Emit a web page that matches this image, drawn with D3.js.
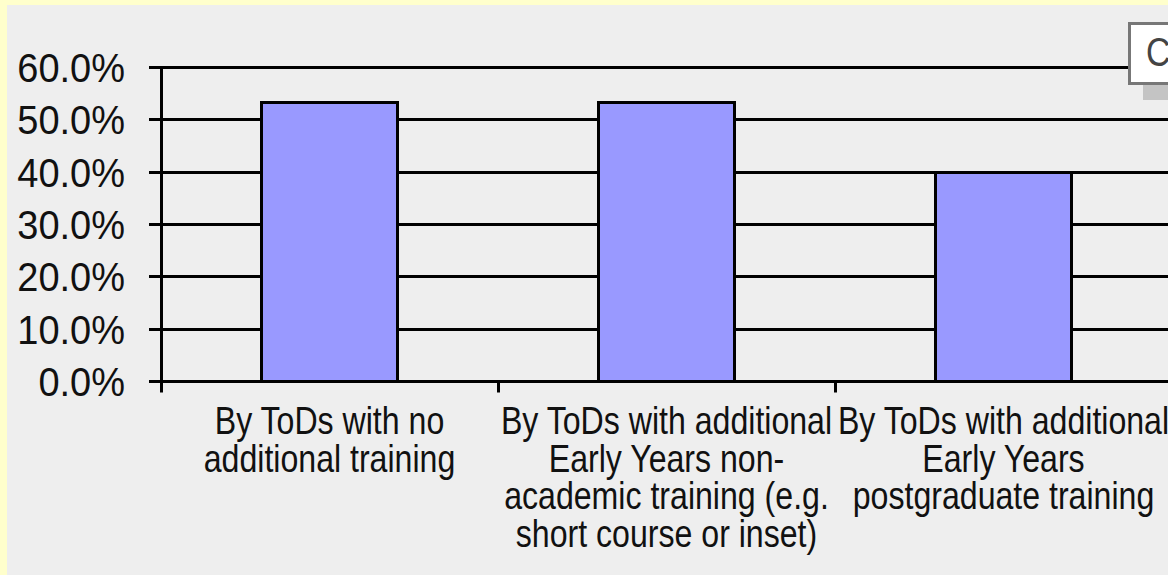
<!DOCTYPE html>
<html>
<head>
<meta charset="utf-8">
<script src="https://cdn.jsdelivr.net/npm/d3@7"></script>
<style>
  html, body { margin: 0; padding: 0; background: #ffffcc; }
  svg { display: block; }
  text { font-family: "Liberation Sans Narrow", "Arial Narrow", "Liberation Sans", Arial, sans-serif; }
</style>
</head>
<body>
<svg width="1168" height="575"></svg>
<script>
// categories, already broken into the lines shown under each bar
var categories = ["none", "nonAcademic", "postgraduate"];
var categoryLines = [
    ["By ToDs with no", "additional training"],
    ["By ToDs with additional", "Early Years non-", "academic training (e.g.", "short course or inset)"],
    ["By ToDs with additional", "Early Years", "postgraduate training"]
];
var values = [0.533, 0.533, 0.40];
var yTicks = [0, 0.1, 0.2, 0.3, 0.4, 0.5, 0.6];

var svg = d3.select("svg"),
    width = +svg.attr("width"),
    height = +svg.attr("height");

// no narrow font installed, so squeeze the regular one
var squeeze = 0.845,
    squeezeY = 0.95;

// grey chart area inside the yellow frame
svg.append("rect")
    .attr("x", 7).attr("y", 5)
    .attr("width", width - 7).attr("height", height - 5)
    .attr("fill", "#eeeeee");

// plot area runs off the right edge of the picture
var plot = { left: 161, right: 1172, top: 67, bottom: 381 };

var x = d3.scaleBand()
    .domain(categories)
    .range([plot.left, plot.right])
    .paddingInner(0.596)
    .paddingOuter(0.298);

var y = d3.scaleLinear()
    .domain([0, 0.6])
    .range([plot.bottom, plot.top]);

// keep 3px lines on whole pixels
function py(v) { return Math.round(y(v)) + 0.5; }

var fmt = d3.format(".1%");
var g = svg.append("g");

// gridlines
g.selectAll(".grid")
    .data(yTicks.filter(function(d) { return d > 0; }))
    .enter().append("line")
    .attr("x1", plot.left).attr("x2", width)
    .attr("y1", py).attr("y2", py)
    .attr("stroke", "#000").attr("stroke-width", 3);

// bars
g.selectAll(".bar")
    .data(values)
    .enter().append("rect")
    .attr("x", function(d, i) { return Math.round(x(categories[i])) + 0.5; })
    .attr("y", py)
    .attr("width", Math.round(x.bandwidth()))
    .attr("height", function(d) { return py(0) - py(d); })
    .attr("fill", "#9999ff")
    .attr("stroke", "#000").attr("stroke-width", 3);

// axes lines
g.append("line")
    .attr("x1", plot.left + 0.5).attr("x2", plot.left + 0.5)
    .attr("y1", py(0.6) - 1.5).attr("y2", py(0))
    .attr("stroke", "#000").attr("stroke-width", 3);
g.append("line")
    .attr("x1", plot.left - 1).attr("x2", width)
    .attr("y1", py(0)).attr("y2", py(0))
    .attr("stroke", "#000").attr("stroke-width", 3);

// y ticks and labels
g.selectAll(".ytick")
    .data(yTicks)
    .enter().append("line")
    .attr("x1", plot.left - 12).attr("x2", plot.left)
    .attr("y1", py).attr("y2", py)
    .attr("stroke", "#000").attr("stroke-width", 3);

g.selectAll(".ylabel")
    .data(yTicks)
    .enter().append("text")
    .attr("transform", function(d) { return "translate(125," + (y(d) + 15) + ") scale(" + squeezeY + ",1)"; })
    .attr("text-anchor", "end")
    .attr("font-size", 40)
    .attr("fill", "#111")
    .text(function(d) { return fmt(d); });

// x ticks at category boundaries
var step = x.step();
var bounds = categories.map(function(c) { return Math.round(x(c) + x.bandwidth() / 2 - step / 2) + 0.5; });
g.selectAll(".xtick")
    .data(bounds)
    .enter().append("line")
    .attr("x1", function(d) { return d; }).attr("x2", function(d) { return d; })
    .attr("y1", py(0)).attr("y2", py(0) + 11)
    .attr("stroke", "#000").attr("stroke-width", 3);

// category labels
var labels = g.selectAll(".xlabel")
    .data(categories)
    .enter().append("text")
    .attr("text-anchor", "middle")
    .attr("font-size", 38)
    .attr("fill", "#111")
    .attr("transform", function(d) {
        return "translate(" + (x(d) + x.bandwidth() / 2) + ",434) scale(" + squeeze + ",1)";
    });

labels.each(function(d, i) {
    d3.select(this).selectAll("tspan")
        .data(categoryLines[i])
        .enter().append("tspan")
        .attr("x", 0)
        .attr("dy", function(t, j) { return j === 0 ? 0 : 37.7; })
        .text(function(t) { return t; });
});

// clipped legend box in the top right corner
svg.append("rect")
    .attr("x", 1143).attr("y", 85)
    .attr("width", 30).attr("height", 15)
    .attr("fill", "#c4c4c4");
svg.append("rect")
    .attr("x", 1129.5).attr("y", 23.5)
    .attr("width", 50).attr("height", 60)
    .attr("fill", "#ffffff")
    .attr("stroke", "#777777").attr("stroke-width", 3);
svg.append("text")
    .attr("transform", "translate(1146,66) scale(" + squeeze + ",1)")
    .attr("font-size", 40)
    .attr("fill", "#444")
    .text("C");
</script>
</body>
</html>
